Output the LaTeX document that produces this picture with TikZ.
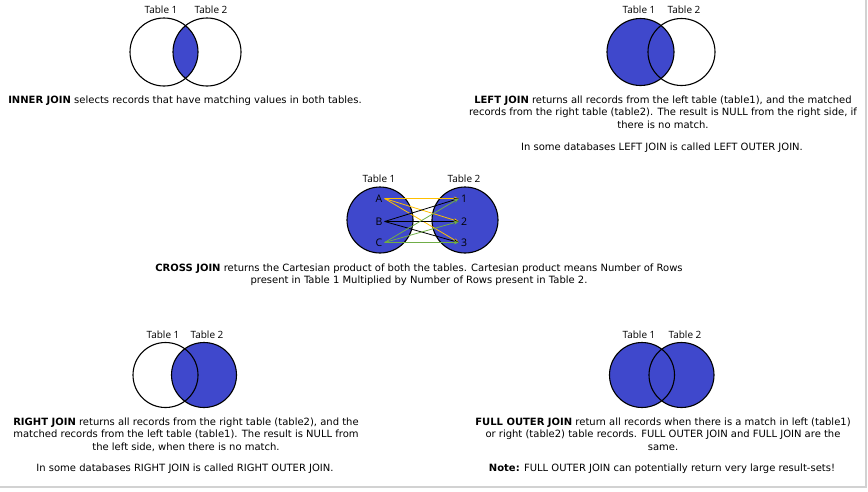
\documentclass[tikz,border=0pt]{standalone}
\usepackage{fontspec}
\setmainfont{DejaVu Sans}
\newfontfamily\labelfont{Open Sans}
\usetikzlibrary{arrows.meta, positioning, backgrounds}
\definecolor{JB}{RGB}{63,72,204}
\definecolor{JO}{RGB}{255,192,0}
\definecolor{JG}{RGB}{112,173,71}
\definecolor{FR}{RGB}{210,210,210}

\begin{document}
\begin{tikzpicture}[x=1pt, y=-1pt,
  set/.style={draw=black, line width=1.1pt, circle,
              minimum size=#1, inner sep=0pt},
  tlab/.style={font=\labelfont\fontsize{10}{12}\selectfont, inner sep=0pt},
  row/.style={font=\labelfont\fontsize{10.5}{12}\selectfont, inner sep=2pt},
  desc/.style={font=\fontsize{10}{12.4}\selectfont, align=center,
               inner sep=0pt, anchor=north},
  arr/.style={line width=0.8pt, -{Stealth[length=5pt]}}
]
\useasboundingbox (0,0) rectangle (868,491);

% Inner join (top left)
\node[set=68pt] (IN1) at (164,52) {};
\node[set=68pt] (IN2) at (207,52) {};
\begin{scope}[on background layer]
  \begin{scope}
    \clip (IN1.center) circle (34pt);
    \fill[JB] (IN2.center) circle (34pt);
  \end{scope}
\end{scope}
\node[tlab] (tIN1) at (161,10) {Table 1};
\node[tlab] (tIN2) at (211,10) {Table 2};
\node[desc] (dIN) at (185,95.4)
  {\textbf{INNER JOIN} selects records that have matching values in both tables.};

% Left join (top right)
\node[set=67pt] (LF1) at (640.5,52) {};
\node[set=67pt] (LF2) at (681.5,52) {};
\begin{scope}[on background layer]
  \fill[JB] (LF1.center) circle (33.5pt);
\end{scope}
\node[tlab] (tLF1) at (639,10) {Table 1};
\node[tlab] (tLF2) at (684,10) {Table 2};
\node[desc] (dLF) at (663,95.4)
  {\textbf{LEFT JOIN} returns all records from the left table (table1), and the matched\\
   records from the right table (table2). The result is NULL from the right side, if\\
   there is no match.};
\node[desc] (nLF) at (662,142.4)
  {In some databases LEFT JOIN is called LEFT OUTER JOIN.};

% Cross join (middle)
\node[set=66pt, fill=JB] (CR1) at (380,220) {};
\node[set=66pt, fill=JB] (CR2) at (465,220) {};
\node[tlab] (tCR1) at (379,178.5) {Table 1};
\node[tlab] (tCR2) at (464,178.5) {Table 2};
\node[row] (rA) at (379,198.5) {A};
\node[row] (rB) at (379,221.5) {B};
\node[row] (rC) at (379,242.5) {C};
\node[row] (r1) at (464,198.5) {1};
\node[row] (r2) at (464,221.5) {2};
\node[row] (r3) at (464,242.5) {3};
\foreach \s/\c in {rA/JO, rB/black, rC/JG}
  \foreach \t in {r1,r2,r3}
    \draw[arr, \c] (\s.east) -- (\t.west);
\node[desc] (dCR) at (419,263.4)
  {\textbf{CROSS JOIN} returns the Cartesian product of both the tables. Cartesian product means Number of Rows\\
   present in Table 1 Multiplied by Number of Rows present in Table 2.};

% Right join (bottom left)
\node[set=65pt] (RT1) at (165.5,375) {};
\node[set=65pt] (RT2) at (204,375) {};
\begin{scope}[on background layer]
  \fill[JB] (RT2.center) circle (32.5pt);
\end{scope}
\node[tlab] (tRT1) at (163,334.5) {Table 1};
\node[tlab] (tRT2) at (207,334.5) {Table 2};
\node[desc] (dRT) at (186,417.4)
  {\textbf{RIGHT JOIN} returns all records from the right table (table2), and the\\
   matched records from the left table (table1). The result is NULL from\\
   the left side, when there is no match.};
\node[desc] (nRT) at (185,463.4)
  {In some databases RIGHT JOIN is called RIGHT OUTER JOIN.};

% Full outer join (bottom right)
\node[set=65pt] (FO1) at (642,375) {};
\node[set=65pt] (FO2) at (681.5,375) {};
\begin{scope}[on background layer]
  \fill[JB] (FO1.center) circle (32.5pt) (FO2.center) circle (32.5pt);
\end{scope}
\node[tlab] (tFO1) at (639,334.5) {Table 1};
\node[tlab] (tFO2) at (685,334.5) {Table 2};
\node[desc] (dFO) at (663,417.4)
  {\textbf{FULL OUTER JOIN} return all records when there is a match in left (table1)\\
   or right (table2) table records. FULL OUTER JOIN and FULL JOIN are the\\
   same.};
\node[desc] (nFO) at (662,463.4)
  {\textbf{Note:} FULL OUTER JOIN can potentially return very large result-sets!};

% Frame
\draw[FR, line width=1.5pt] (866,0) -- (866,487) -- (0,487);
\end{tikzpicture}
\end{document}
